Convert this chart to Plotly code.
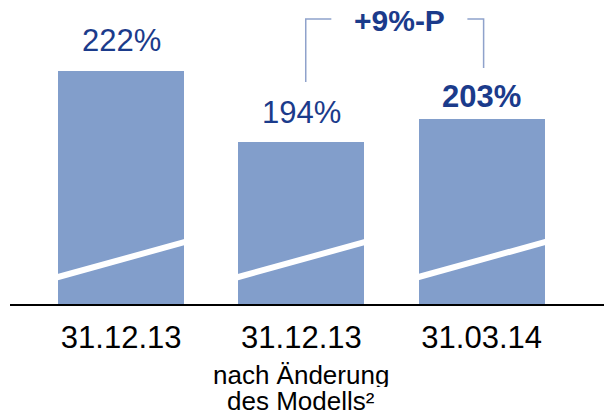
import plotly.graph_objects as go

# Solvency ratio at three reporting dates
categories = ["31.12.13", "31.12.13 (neu)", "31.03.14"]
tick_labels = ["31.12.13", "31.12.13", "31.03.14"]
values = [222, 194, 203]
value_labels = ["222%", "194%", "203%"]
label_bold = [False, False, True]
delta_label = "+9%-P"
sub_lines = ["nach Änderung", "des Modells²"]

BAR = "#829ecb"
DARK = "#1b3b8b"
BRACKET = "#8fa2cb"
FONT = "Liberation Sans, Arial, sans-serif"

x_pos = list(range(len(categories)))
bar_w = 0.70
y_min, y_max = 130.4, 249.8

fig = go.Figure()
fig.add_trace(go.Bar(
    x=x_pos, y=values, width=bar_w, marker=dict(color=BAR, line=dict(width=0)),
    hoverinfo="skip", showlegend=False,
))

# value labels above each bar
shifts = [11, 10, 3]
for xi, v, txt, b, s in zip(x_pos, values, value_labels, label_bold, shifts):
    fig.add_annotation(
        x=xi, y=v, text=f"<b>{txt}</b>" if b else txt, showarrow=False,
        yanchor="bottom", yshift=s, font=dict(family=FONT, size=31, color=DARK),
    )

# axis-break stripes across each bar
brk_lo, brk_hi = 141.0, 154.7
ext = 0.02
slope = (brk_hi - brk_lo) / bar_w
for xi in x_pos:
    fig.add_shape(
        type="line", x0=xi - bar_w / 2 - ext, x1=xi + bar_w / 2 + ext,
        y0=brk_lo - ext * slope, y1=brk_hi + ext * slope,
        line=dict(color="white", width=6), layer="above",
    )

# bracket between the 2nd and 3rd bar with the change label
top = 242.3
x_l, x_l2 = 1.024, 1.166
x_r2, x_r = 1.921, 2.011
fig.add_shape(type="path",
              path=f"M {x_l},{values[1] + 23.6} L {x_l},{top} L {x_l2},{top}",
              line=dict(color=BRACKET, width=1.5))
fig.add_shape(type="path",
              path=f"M {x_r2},{top} L {x_r},{top} L {x_r},{values[2] + 20.1}",
              line=dict(color=BRACKET, width=1.5))
fig.add_annotation(
    x=1.543, y=top, text=f"<b>{delta_label}</b>", showarrow=False,
    yanchor="middle", yshift=-1, font=dict(family=FONT, size=30, color=DARK),
)

# secondary caption under the middle category, two tightly spaced lines
for i, line in enumerate(sub_lines):
    fig.add_annotation(
        x=1, y=0, yref="paper", yanchor="middle", yshift=-70 - 26 * i, text=line,
        height=25, showarrow=False, font=dict(family=FONT, size=26, color="black"),
    )

fig.update_layout(
    width=604, height=414,
    margin=dict(l=10, r=0, t=0, b=110),
    paper_bgcolor="white", plot_bgcolor="white",
    bargap=0,
    xaxis=dict(
        range=[-0.617, 2.679], tickvals=x_pos, ticktext=tick_labels,
        showgrid=False, zeroline=False, showline=True, linecolor="black",
        linewidth=1.5, ticks="", ticklabelstandoff=5,
        tickfont=dict(family=FONT, size=31, color="black"),
    ),
    yaxis=dict(range=[y_min, y_max], visible=False, showgrid=False, zeroline=False),
)

fig.write_html("out.html")
